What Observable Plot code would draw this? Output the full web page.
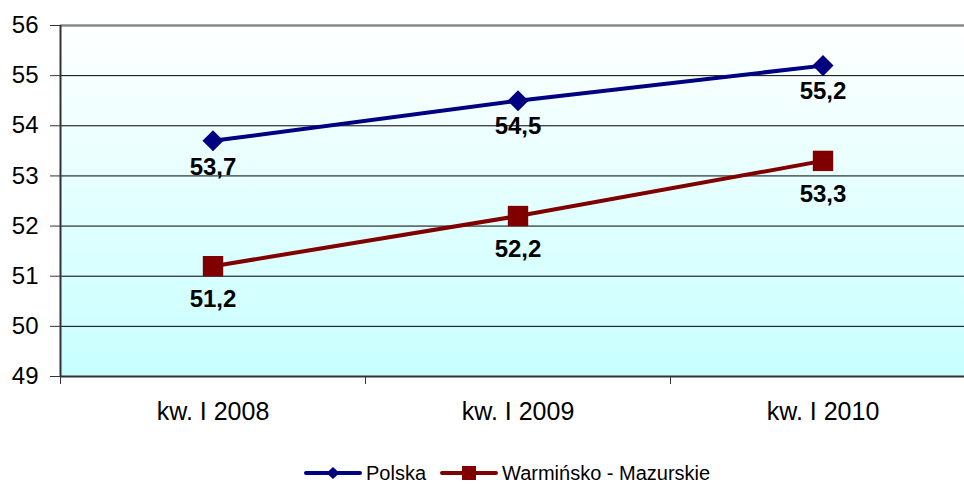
<!DOCTYPE html>
<html><head><meta charset="utf-8">
<script src="https://cdn.jsdelivr.net/npm/d3@7"></script>
<script src="https://cdn.jsdelivr.net/npm/@observablehq/plot@0.6"></script>
<style>
html,body{margin:0;padding:0;background:#fff;overflow:hidden;font-family:"Liberation Sans",Arial,sans-serif;}
#legend{position:relative;height:30px;margin-top:13px;font-size:20px;color:#000;}
#legend .it{position:absolute;top:0;height:30px;display:flex;align-items:center;white-space:nowrap}
</style></head>
<body><div id="chart"></div>
<div id="legend"></div>
<script>
const categories = ["kw. I 2008", "kw. I 2009", "kw. I 2010"];
const polska = [53.7, 54.5, 55.2];
const warminsko = [51.2, 52.2, 53.3];
const seriesNames = ["Polska", "Warmińsko - Mazurskie"];
const yTicks = [49, 50, 51, 52, 53, 54, 55, 56];

const blue = "#000080", red = "#800000";
const fmt = v => v.toFixed(1).replace(".", ",");
const pData = polska.map((v, i) => ({i: i + 0.5, v}));
const wData = warminsko.map((v, i) => ({i: i + 0.5, v}));

const plot = Plot.plot({
  width: 964, height: 445,
  marginLeft: 60, marginRight: -11, marginTop: 25, marginBottom: 69,
  style: {fontFamily: "Liberation Sans, Arial, sans-serif", background: "transparent"},
  x: {domain: [0, 3]},
  y: {domain: [49, 56]},
  marks: [
    Plot.frame({fill: "url(#bg)", stroke: "none"}),
    Plot.ruleY(yTicks.slice(1, -1), {stroke: "#000", strokeWidth: 1}),
    Plot.ruleY([56], {stroke: "#888", strokeWidth: 2.5}),
    Plot.ruleY([49], {stroke: "#333", strokeWidth: 2}),
    Plot.ruleX([0], {stroke: "#333", strokeWidth: 2}),
    Plot.axisY({ticks: yTicks, tickSize: 10, tickPadding: 12, fontSize: 24, label: null, tickFormat: d => d, stroke: "#333", fill: "#000"}),
    Plot.axisX({ticks: [0, 1, 2, 3], tickSize: 8, tickFormat: () => "", label: null, stroke: "#333"}),
    Plot.axisX({ticks: [0.5, 1.5, 2.5], tickSize: 0, tickPadding: 26, fontSize: 25, label: null, fill: "#000", style: {letterSpacing: "0.9px"}, tickFormat: d => categories[Math.floor(d)]}),
    Plot.line(pData, {x: "i", y: "v", stroke: blue, strokeWidth: 4}),
    Plot.dot(pData, {x: "i", y: "v", symbol: "diamond2", r: 9.5, fill: blue, stroke: "none"}),
    Plot.line(wData, {x: "i", y: "v", stroke: red, strokeWidth: 4}),
    Plot.dot(wData, {x: "i", y: "v", symbol: "square", r: 11.5, fill: red, stroke: "none"}),
    Plot.text(pData, {x: "i", y: "v", text: d => fmt(d.v), dy: 26, fontSize: 24, fontWeight: "bold", fill: "#000"}),
    Plot.text(wData, {x: "i", y: "v", text: d => fmt(d.v), dy: 33, fontSize: 24, fontWeight: "bold", fill: "#000"})
  ]
});

const svg = d3.select(plot);
const grad = svg.insert("defs", ":first-child").append("linearGradient")
  .attr("id", "bg").attr("x1", 0).attr("y1", 0).attr("x2", 0).attr("y2", 1);
grad.append("stop").attr("offset", "0%").attr("stop-color", "#ffffff");
grad.append("stop").attr("offset", "100%").attr("stop-color", "#c8ffff");
document.getElementById("chart").appendChild(plot);

const legend = document.getElementById("legend");
const items = [
  {name: seriesNames[0], color: blue, shape: "diamond", left: 304},
  {name: seriesNames[1], color: red, shape: "square", left: 440}
];
legend.innerHTML = items.map(it => {
  const marker = it.shape === "diamond"
    ? `<path d="M29,5 L35.5,11 L29,17 L22.5,11 Z" fill="${it.color}"/>`
    : `<rect x="22" y="4" width="14" height="14" fill="${it.color}"/>`;
  return `<div class="it" style="left:${it.left}px"><svg width="58" height="22" style="margin-right:4px"><line x1="2" x2="56" y1="11" y2="11" stroke="${it.color}" stroke-width="4" stroke-linecap="round"/>${marker}</svg><span>${it.name}</span></div>`;
}).join("");
</script>
</body></html>
